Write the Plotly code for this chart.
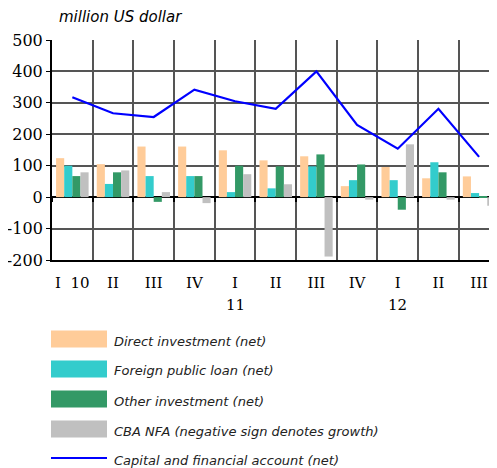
import plotly.graph_objects as go

quarters = ["I  10", "II", "III", "IV", "I", "II", "III", "IV", "I", "II", "III"]
year_labels = {4: "11", 8: "12"}
y_tick_vals = [-200, -100, 0, 100, 200, 300, 400, 500]
y_tick_text = ["-200", "-100", "0", "100", "200", "300", "400", "500"]

direct_investment = [124, 105, 161, 161, 149, 117, 130, 35, 96, 60, 66]
foreign_public_loan = [100, 42, 67, 67, 16, 28, 98, 54, 54, 111, 13]
other_investment = [67, 79, -15, 67, 100, 98, 136, 104, -40, 79, 3]
cba_nfa = [79, 85, 16, -19, 73, 41, -189, -8, 168, -8, -27]
capital_financial = [318, 267, 255, 342, 305, 281, 400, 230, 154, 281, 128]

x = list(range(len(quarters)))
boundaries = [i - 0.5 for i in range(len(quarters) + 1)]

# the page body has an 8px margin; size the figure so it fills the 497x468 window
OFF = 8
W, H = 497 - OFF, 468 - OFF
ML, MR, MT, MB = 44, 0, 32, 208
PW, PH = W - ML - MR, H - MT - MB


def px_to_paper_x(px):
    return (px - OFF - ML) / PW


def px_to_paper_y(py):
    return (H - MB - (py - OFF)) / PH


fig = go.Figure()
bar_series = [
    ("Direct investment (net)", direct_investment, "#FFCC99"),
    ("Foreign public loan (net)", foreign_public_loan, "#33CCCC"),
    ("Other investment (net)", other_investment, "#339966"),
    ("CBA NFA (negative sign denotes growth)", cba_nfa, "#C0C0C0"),
]
line_series = ("Capital and financial account (net)", capital_financial, "#0000FF")

for name, vals, col in bar_series:
    fig.add_trace(go.Bar(x=x, y=vals, name=name, marker=dict(color=col, line=dict(width=0)),
                         showlegend=False))
fig.add_trace(go.Scatter(x=x, y=line_series[1], name=line_series[0], mode="lines",
                         line=dict(color=line_series[2], width=2.2), showlegend=False))
# invisible helper so the zero-line tick axis is drawn
fig.add_trace(go.Scatter(x=x, y=line_series[1], mode="none", xaxis="x2", showlegend=False,
                         hoverinfo="skip"))

# legend drawn below the plot (wide swatches as in the original)
legend_font = dict(family="DejaVu Sans", size=13, color="#222222", style="italic")
sw_x0, sw_x1, txt_x = 51, 107, 112
row0, row_step, sw_h = 339, 30, 17
shapes = []
for i, (name, _, col) in enumerate(bar_series):
    cy = row0 + row_step * i
    shapes.append(dict(type="rect", xref="paper", yref="paper",
                       x0=px_to_paper_x(sw_x0), x1=px_to_paper_x(sw_x1),
                       y0=px_to_paper_y(cy + sw_h / 2), y1=px_to_paper_y(cy - sw_h / 2),
                       fillcolor=col, line=dict(width=0), layer="above"))
    fig.add_annotation(x=px_to_paper_x(txt_x), y=px_to_paper_y(cy + 2), xref="paper", yref="paper",
                       xanchor="left", yanchor="middle", text=name, showarrow=False, font=legend_font)
cy = row0 + row_step * len(bar_series) - 1
shapes.append(dict(type="line", xref="paper", yref="paper",
                   x0=px_to_paper_x(sw_x0), x1=px_to_paper_x(sw_x1),
                   y0=px_to_paper_y(cy), y1=px_to_paper_y(cy),
                   line=dict(color=line_series[2], width=2)))
fig.add_annotation(x=px_to_paper_x(txt_x), y=px_to_paper_y(cy + 2), xref="paper", yref="paper",
                   xanchor="left", yanchor="middle", text=line_series[0], showarrow=False, font=legend_font)

for k, lab in year_labels.items():
    fig.add_annotation(x=k, y=px_to_paper_y(305), xref="x", yref="paper", text=lab, showarrow=False,
                       yanchor="middle", font=dict(family="DejaVu Serif", size=15, color="black"))

fig.add_annotation(x=px_to_paper_x(57), y=px_to_paper_y(17), xref="paper", yref="paper",
                   xanchor="left", yanchor="middle", text="million US dollar", showarrow=False,
                   font=dict(family="DejaVu Sans", size=15, color="black", style="italic"))

fig.update_layout(
    width=W, height=H,
    margin=dict(l=ML, r=MR, t=MT, b=MB, autoexpand=False),
    paper_bgcolor="white", plot_bgcolor="white",
    barmode="group", bargap=0.2, bargroupgap=0,
    showlegend=False,
    shapes=shapes,
    xaxis=dict(range=[-0.5, 10.44], tickmode="array", tickvals=x, ticktext=quarters,
               showgrid=False, ticks="outside", ticklen=8, tickcolor="rgba(0,0,0,0)",
               tickfont=dict(family="DejaVu Serif", size=15, color="black"),
               minor=dict(tickvals=boundaries, showgrid=True, gridcolor="#555555", gridwidth=1.5),
               showline=True, linecolor="black", linewidth=1.5, zeroline=False),
    xaxis2=dict(range=[-0.5, 10.44], overlaying="x", anchor="free", position=200 / 700,
                side="bottom", tickmode="array", tickvals=boundaries, ticktext=[""] * len(boundaries),
                ticks="outside", ticklen=4, tickwidth=1.5, tickcolor="black",
                showgrid=False, showline=False, zeroline=False),
    yaxis=dict(range=[-200, 500], tickmode="array", tickvals=y_tick_vals, ticktext=y_tick_text,
               showgrid=True, gridcolor="#555555", gridwidth=1.5,
               zeroline=True, zerolinecolor="black", zerolinewidth=2,
               ticks="outside", ticklen=4, tickcolor="black",
               tickfont=dict(family="DejaVu Serif", size=16, color="black"),
               showline=True, linecolor="black", linewidth=2),
)

fig.write_html("out.html")
